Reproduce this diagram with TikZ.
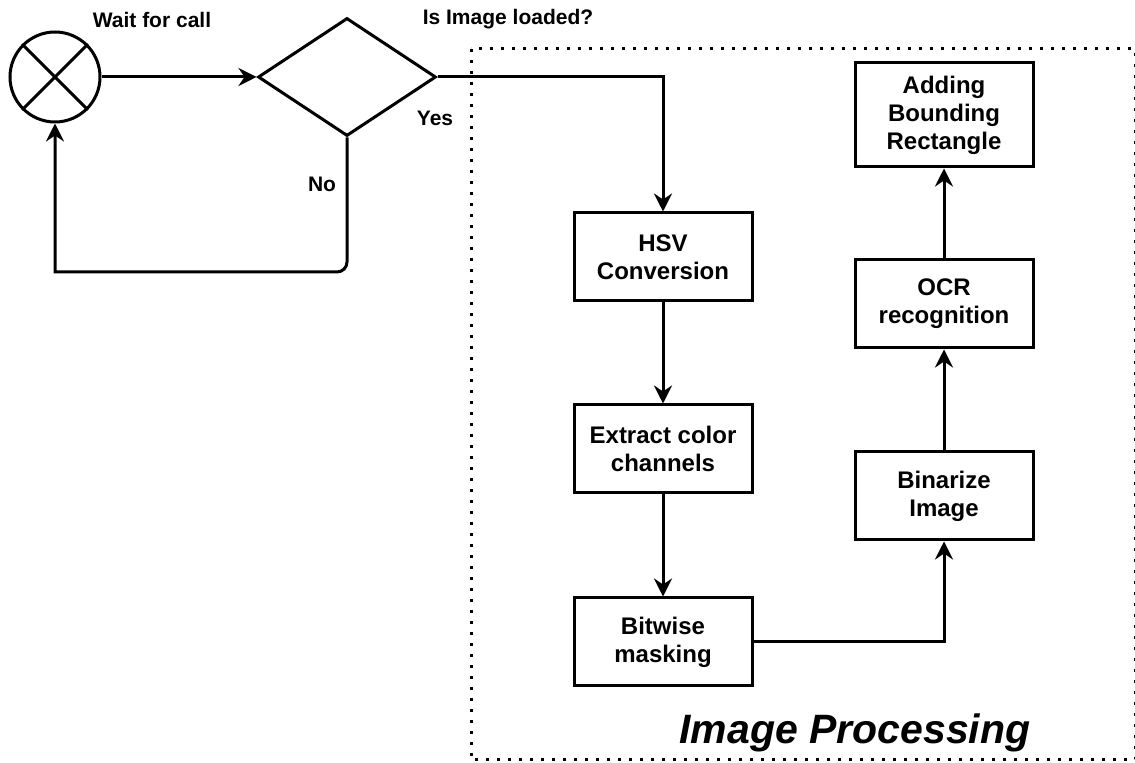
\documentclass[tikz,border=0pt]{standalone}
\usepackage{fontspec}
\setmainfont{Liberation Sans}
\usepackage{tikz}
\usetikzlibrary{shapes.geometric,arrows.meta}

\begin{document}
\begin{tikzpicture}[x=0.5pt,y=-0.5pt,line width=1.5pt,
	flow/.style={-{Stealth[length=9pt,width=9pt,inset=3pt]}},
	stepbox/.style={draw, minimum width=89pt, minimum height=44pt, align=center, inner sep=2pt, font=\bfseries\fontsize{12}{14}\selectfont},
	lbl/.style={font=\bfseries\fontsize{10.5}{12}\selectfont}]
	\useasboundingbox (0,0) rectangle (1135,763);
	% waiting loop
	\node [draw, circle, minimum size=45pt, inner sep=0pt] (wait) at (55,77) {};
	\draw (wait.45) -- (wait.225);
	\draw (wait.135) -- (wait.-45);
	\node [draw, diamond, minimum width=89pt, minimum height=59pt, inner sep=0pt] (check) at (347,77) {};
	\node [lbl] (waitlbl) at (152,20) {Wait for call};
	\node [lbl] (checklbl) at (508,19) {Is Image loaded?};
	\node [lbl] (yeslbl) at (435,118) {Yes};
	\node [lbl] (nolbl) at (322,184) {No};
	\coordinate (loopend) at (55,272);
	% processing frame
	\draw [dash pattern=on 1.5pt off 4pt] (471,49) rectangle (1135,760);
	\node [font=\bfseries\itshape\fontsize{20.5}{24}\selectfont] (frametitle) at (855,733) {Image Processing};
	\node [stepbox] (hsv) at (663,257) {HSV\\Conversion};
	\node [stepbox] (ext) at (663,449) {Extract color\\channels};
	\node [stepbox] (bit) at (663,642) {Bitwise\\masking};
	\node [stepbox] (bin) at (944,496) {Binarize\\Image};
	\node [stepbox] (ocr) at (944,304) {OCR\\recognition};
	\node [stepbox, minimum height=52pt] (add) at (944,115) {Adding\\Bounding\\Rectangle};
	\draw [flow] (wait.east) -- (check.west);
	\draw [flow] (check.south) [rounded corners=5pt] -- (check.south |- loopend) [sharp corners] -- (loopend) -- (wait.south);
	\draw [flow] (check.east) -| (hsv.north);
	\draw [flow] (hsv) -- (ext);
	\draw [flow] (ext) -- (bit);
	\draw [flow] (bit.east) -| (bin.south);
	\draw [flow] (bin) -- (ocr);
	\draw [flow] (ocr) -- (add);
\end{tikzpicture}
\end{document}
